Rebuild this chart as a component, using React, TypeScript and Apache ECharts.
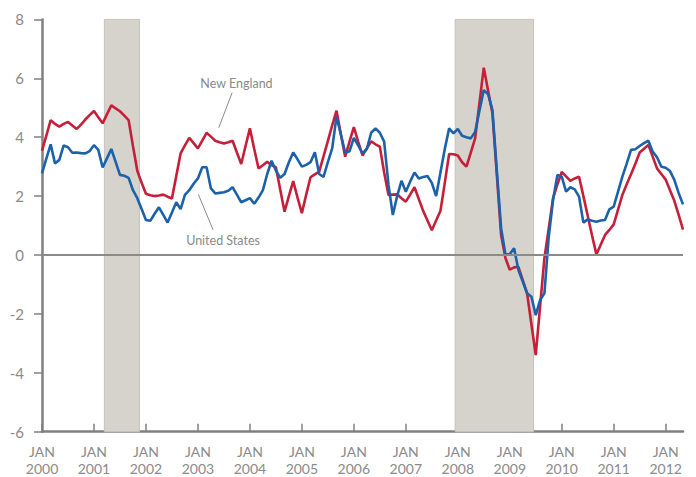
import React, { useEffect, useRef } from "react";
import * as echarts from "echarts";

// Month index 0 = JAN 2000, 148 = MAY 2012
const tickYears = [2000, 2001, 2002, 2003, 2004, 2005, 2006, 2007, 2008, 2009, 2010, 2011, 2012];
const tickMonthIndex = tickYears.map((y) => (y - 2000) * 12);
const yTicks = [-6, -4, -2, 0, 2, 4, 6, 8];

const newEngland = [
  3.54, 4.05, 4.58, 4.45, 4.36, 4.45, 4.52, 4.4, 4.28, 4.43, 4.6, 4.75,
  4.89, 4.68, 4.47, 4.78, 5.08, 4.98, 4.88, 4.73, 4.58, 3.7, 2.86, 2.45,
  2.08, 2.03, 2.0, 2.02, 2.05, 1.98, 1.92, 2.68, 3.45, 3.72, 3.98, 3.8,
  3.62, 3.88, 4.15, 4.02, 3.88, 3.83, 3.79, 3.83, 3.88, 3.48, 3.09, 3.7,
  4.3, 3.6, 2.94, 3.05, 3.17, 3.05, 2.98, 2.22, 1.47, 2.0, 2.51, 1.95,
  1.42, 2.05, 2.64, 2.74, 2.83, 3.35, 3.87, 4.4, 4.9, 4.1, 3.34, 3.85,
  4.34, 3.85, 3.38, 3.62, 3.86, 3.76, 3.68, 2.8, 2.04, 2.05, 2.06, 1.93,
  1.81, 2.05, 2.3, 1.9, 1.5, 1.17, 0.84, 1.17, 1.5, 2.45, 3.43, 3.42,
  3.38, 3.15, 3.0, 3.48, 3.96, 5.16, 6.36, 5.58, 4.81, 2.75, 0.68, -0.1,
  -0.5, -0.42, -0.4, -0.85, -1.3, -2.35, -3.4, -1.75, -0.11, 0.9, 1.93, 2.4,
  2.82, 2.67, 2.52, 2.6, 2.66, 2.0, 1.33, 0.66, 0.02, 0.35, 0.68, 0.85,
  1.04, 1.54, 2.04, 2.4, 2.74, 3.1, 3.48, 3.61, 3.74, 3.34, 2.94, 2.75,
  2.56, 2.2, 1.84, 1.36, 0.86,
];

const unitedStates = [
  2.77, 3.27, 3.76, 3.11, 3.23, 3.72, 3.66, 3.47, 3.48, 3.46, 3.45, 3.53,
  3.73, 3.57, 2.97, 3.28, 3.6, 3.16, 2.72, 2.69, 2.62, 2.2, 1.93, 1.56,
  1.19, 1.16, 1.4, 1.62, 1.36, 1.1, 1.44, 1.79, 1.56, 2.04, 2.2, 2.42,
  2.6, 2.98, 2.98, 2.26, 2.09, 2.11, 2.13, 2.18, 2.3, 2.05, 1.79, 1.86,
  1.93, 1.74, 1.95, 2.2, 2.75, 3.2, 2.87, 2.62, 2.75, 3.15, 3.48, 3.25,
  3.0, 3.06, 3.15, 3.49, 2.75, 2.65, 3.15, 3.62, 4.7, 4.1, 3.47, 3.52,
  3.98, 3.72, 3.45, 3.6, 4.15, 4.3, 4.15, 3.85, 2.38, 1.36, 2.0, 2.52,
  2.15, 2.49, 2.8, 2.6, 2.65, 2.68, 2.45, 2.0, 2.8, 3.6, 4.3, 4.13,
  4.28, 4.05, 4.0, 3.96, 4.18, 4.9, 5.6, 5.46, 4.92, 2.9, 0.91, 0.02,
  0.03, 0.23, -0.51, -0.9, -1.3, -1.42, -2.04, -1.53, -1.3, 0.62, 1.87, 2.72,
  2.66, 2.15, 2.3, 2.23, 1.98, 1.1, 1.21, 1.16, 1.13, 1.17, 1.19, 1.55,
  1.64, 2.15, 2.66, 3.1, 3.57, 3.59, 3.7, 3.8, 3.88, 3.51, 3.32, 3.0,
  2.96, 2.85, 2.55, 2.1, 1.72,
];

// Recession periods (month index, fractional edges)
const recessions = [
  [14.4, 22.5],
  [95.4, 113.5],
];

const RED = "#c51f3a";
const BLUE = "#1b62ab";
const GREY = "#8a8a8a";
const AXIS = "#808080";
const FONT = "Lato, 'Open Sans', sans-serif";

export default function App() {
  const ref = useRef<HTMLDivElement>(null);

  useEffect(() => {
    if (!ref.current) return;
    const chart = echarts.init(ref.current, null, { renderer: "svg" });
    chart.setOption({
      animation: false,
      grid: { left: 42, right: 13, top: 19.4, bottom: 45.3, containLabel: false },
      xAxis: {
        type: "value",
        min: 0,
        max: newEngland.length - 1,
        splitLine: { show: false },
        axisLine: { show: true, onZero: false, lineStyle: { color: AXIS, width: 2.5 } },
        axisTick: {
          show: true,
          inside: true,
          length: 8,
          customValues: tickMonthIndex,
          lineStyle: { color: AXIS, width: 1.5 },
        },
        axisLabel: {
          customValues: tickMonthIndex,
          formatter: (v: number) => `JAN\n${2000 + Math.round(v / 12)}`,
          color: GREY,
          fontFamily: FONT,
          fontSize: 14,
          lineHeight: 17,
          margin: 11,
        },
      },
      yAxis: {
        type: "value",
        min: yTicks[0],
        max: yTicks[yTicks.length - 1],
        interval: 2,
        splitLine: { show: false },
        axisLine: { show: true, lineStyle: { color: AXIS, width: 2.5 } },
        axisTick: { show: true, inside: false, length: 8, lineStyle: { color: AXIS, width: 1.5 } },
        axisLabel: { color: GREY, fontFamily: FONT, fontSize: 15, margin: 18 },
      },
      series: [
        {
          name: "New England",
          type: "line",
          data: newEngland.map((v, i) => [i, v]),
          showSymbol: false,
          symbol: "none",
          lineStyle: { color: RED, width: 2.6 },
          z: 3,
          markArea: {
            silent: true,
            z: 1,
            itemStyle: { color: "#d6d3cc", borderColor: "#c6c3bc", borderWidth: 1 },
            data: recessions.map(([a, b]) => [{ xAxis: a }, { xAxis: b }]),
          },
          markLine: {
            silent: true,
            symbol: ["none", "none"],
            label: { show: false },
            lineStyle: { color: GREY, width: 2, type: "solid" },
            data: [{ yAxis: 0 }],
          },
        },
        {
          name: "United States",
          type: "line",
          data: unitedStates.map((v, i) => [i, v]),
          showSymbol: false,
          symbol: "none",
          lineStyle: { color: BLUE, width: 2.6 },
          z: 4,
        },
      ],
    });

    const px = (x: number, y: number) =>
      chart.convertToPixel({ gridIndex: 0 }, [x, y]) as number[];
    const neText = px(44.9, 5.83);
    const neA = px(43.9, 5.51);
    const neB = px(40.8, 4.32);
    const usText = px(41.8, 0.48);
    const usA = px(36.1, 2.06);
    const usB = px(39.5, 0.85);
    const textStyle = {
      fill: GREY,
      fontFamily: FONT,
      fontSize: 12.5,
      align: "center",
      verticalAlign: "middle",
    };
    chart.setOption({
      graphic: [
        { type: "text", x: neText[0], y: neText[1], style: { ...textStyle, text: "New England" } },
        {
          type: "line",
          shape: { x1: neA[0], y1: neA[1], x2: neB[0], y2: neB[1] },
          style: { stroke: GREY, lineWidth: 1 },
        },
        { type: "text", x: usText[0], y: usText[1], style: { ...textStyle, text: "United States" } },
        {
          type: "line",
          shape: { x1: usA[0], y1: usA[1], x2: usB[0], y2: usB[1] },
          style: { stroke: GREY, lineWidth: 1 },
        },
      ],
    });

    return () => chart.dispose();
  }, []);

  return (
    <div
      ref={ref}
      style={{ position: "fixed", left: 0, top: 0, width: 696, height: 477, background: "#fff" }}
    />
  );
}
